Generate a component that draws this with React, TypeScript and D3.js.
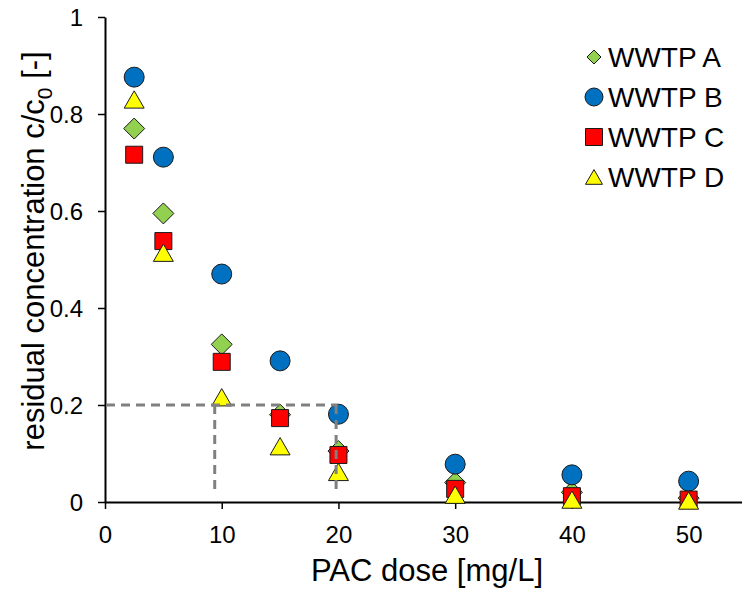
import React, { useEffect, useRef } from 'react';
import * as d3 from 'd3';

// PAC dose [mg/L]
const doses = [2.5, 5, 10, 15, 20, 30, 40, 50];
// residual concentration c/c0 per treatment plant
const wwtpA = [0.77, 0.595, 0.325, 0.18, 0.105, 0.04, 0.02, 0.008];
const wwtpB = [0.876, 0.711, 0.47, 0.291, 0.181, 0.078, 0.056, 0.043];
const wwtpC = [0.716, 0.538, 0.289, 0.173, 0.097, 0.027, 0.012, 0.005];
const wwtpD = [0.83, 0.514, 0.216, 0.115, 0.062, 0.015, 0.005, 0.003];
const seriesNames = ['WWTP A', 'WWTP B', 'WWTP C', 'WWTP D'];
const xTicks = [0, 10, 20, 30, 40, 50];
const yTicks = [0, 0.2, 0.4, 0.6, 0.8, 1];
// target line: c/c0 = 0.2 reached between these doses
const targetLevel = 0.2;
const targetDoses = [9.4, 19.8];

const FONT = 'Liberation Sans, Arial, sans-serif';

const App = () => {
  const ref = useRef<SVGSVGElement | null>(null);

  useEffect(() => {
    if (!ref.current) return;
    const root = d3.select(ref.current);
    root.selectAll('*').remove();

    const left = 105, right = 747, top = 17, bottom = 502;
    const x = d3.scaleLinear().domain([0, 55]).range([left, right]);
    const y = d3.scaleLinear().domain([0, 1]).range([bottom, top]);

    const svg = root.append('g');

    // axes
    const yAxis = svg.append('g')
      .attr('transform', `translate(${left},0)`)
      .call(d3.axisLeft(y).tickValues(yTicks).tickSize(7).tickSizeOuter(0)
        .tickFormat(d => d3.format('~g')(d as number)));
    const xAxis = svg.append('g')
      .attr('transform', `translate(0,${bottom})`)
      .call(d3.axisBottom(x).tickValues(xTicks).tickSize(7).tickSizeOuter(0));
    [yAxis, xAxis].forEach(g => {
      g.select('.domain').attr('stroke', '#000').attr('stroke-width', 2);
      g.selectAll('.tick line').attr('stroke', '#000').attr('stroke-width', 1.5);
      g.selectAll('.tick text').attr('fill', '#000')
        .style('font-family', FONT).style('font-size', '24px');
    });
    yAxis.selectAll('.tick text').attr('x', -22).attr('dy', '0.35em');
    xAxis.selectAll('.tick text').attr('y', 24);

    // axis titles
    svg.append('text')
      .attr('x', 427).attr('y', 581)
      .attr('text-anchor', 'middle')
      .style('font-family', FONT).style('font-size', '31px')
      .text('PAC dose [mg/L]');
    const yt = svg.append('text')
      .attr('transform', `translate(44,251) rotate(-90)`)
      .attr('text-anchor', 'middle')
      .style('font-family', FONT).style('font-size', '31px');
    yt.append('tspan').text('residual concentration c/c');
    yt.append('tspan').attr('dy', 8).style('font-size', '21px').text('0');
    yt.append('tspan').attr('dy', -8).text(' [-]');

    // marker shapes (triangles shifted so the box centre sits on the value)
    const shapes = [
      { fill: '#92D050', path: d3.symbol(d3.symbolDiamond2, 281), dy: 0 },
      { fill: '#0070C0', path: d3.symbol(d3.symbolCircle, 314), dy: 0 },
      { fill: '#FF0000', path: d3.symbol(d3.symbolSquare2, 368), dy: 0 },
      { fill: '#FFFF00', path: d3.symbol(d3.symbolTriangle2, 285), dy: 2.9 },
    ];
    const legendShapes = [
      { fill: '#92D050', path: d3.symbol(d3.symbolDiamond2, 125), dy: 0 },
      { fill: '#0070C0', path: d3.symbol(d3.symbolCircle, 254), dy: 0 },
      { fill: '#FF0000', path: d3.symbol(d3.symbolSquare2, 368), dy: 0 },
      { fill: '#FFFF00', path: d3.symbol(d3.symbolTriangle2, 207), dy: 2.4 },
    ];

    const allSeries = [wwtpA, wwtpB, wwtpC, wwtpD];
    allSeries.forEach((vals, i) => {
      svg.append('g').selectAll('path')
        .data(vals)
        .enter()
        .append('path')
        .attr('d', shapes[i].path()!)
        .attr('transform', (d, j) => `translate(${x(doses[j])},${y(d) + shapes[i].dy})`)
        .attr('fill', shapes[i].fill)
        .attr('stroke', '#1a1a1a')
        .attr('stroke-width', 1);
    });

    // dashed target lines
    const dash = svg.append('g')
      .attr('stroke', '#808080').attr('stroke-width', 3)
      .attr('stroke-dasharray', '9,6').attr('fill', 'none');
    dash.append('line')
      .attr('x1', left + 1).attr('x2', x(targetDoses[1]) + 1.5)
      .attr('y1', y(targetLevel)).attr('y2', y(targetLevel));
    targetDoses.forEach(td => {
      dash.append('line')
        .attr('x1', x(td)).attr('x2', x(td))
        .attr('y1', y(targetLevel)).attr('y2', bottom - 9);
    });

    // legend
    const legend = svg.append('g').attr('transform', 'translate(594,57)');
    seriesNames.forEach((name, i) => {
      const row = legend.append('g').attr('transform', `translate(0,${i * 40})`);
      row.append('path')
        .attr('d', legendShapes[i].path()!)
        .attr('transform', `translate(0,${legendShapes[i].dy})`)
        .attr('fill', legendShapes[i].fill)
        .attr('stroke', '#1a1a1a').attr('stroke-width', 1);
      row.append('text')
        .attr('x', 14).attr('dy', '0.35em')
        .style('font-family', FONT).style('font-size', '28px')
        .text(name);
    });
  }, []);

  return (
    <svg
      ref={ref}
      width={742}
      height={589}
      style={{ position: 'absolute', left: 0, top: 0, background: '#fff' }}
    />
  );
};

export default App;
